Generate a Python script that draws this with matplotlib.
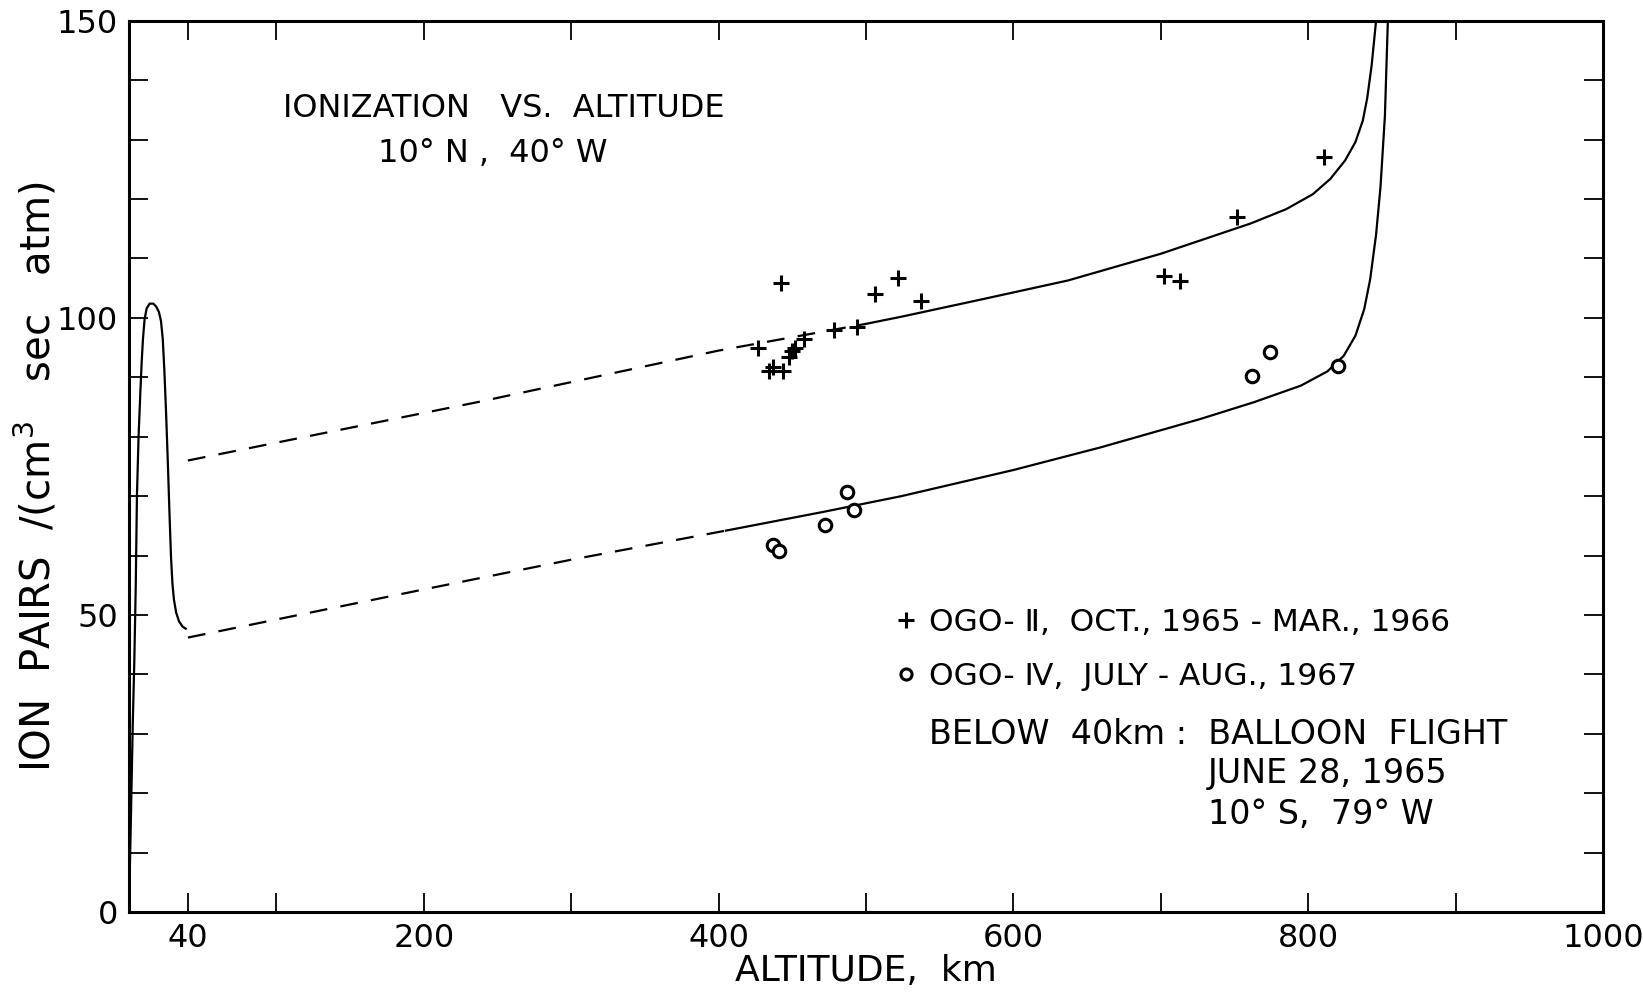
#!/usr/bin/env python3

import matplotlib

matplotlib.use("Agg")
import matplotlib.pyplot as plt
from matplotlib.lines import Line2D

plt.rcParams["font.family"] = ["DejaVu Sans"]

# balloon flight, below 40 km (km, ion pairs)
balloon_alt = [0.3, 1.0, 1.8, 2.6, 3.6, 4.6, 5.4, 6.5, 7.7, 8.6, 9.5, 10.6, 12.0, 14.0,
               16.5, 18.5, 20.3, 21.7, 22.9, 24.0, 25.1, 26.3, 27.4, 28.5, 29.5,
               30.5, 32.0, 34.0, 36.5, 38.5]
balloon_ion = [4, 12, 22, 32, 42, 55, 70, 80, 87.4, 92.5, 96.5, 99.8, 101.6, 102.4,
               102.4, 101.9, 101.0, 99.5, 96.5, 91.2, 84.5, 76.1, 67.7, 59.8, 55.2,
               52.6, 50.4, 48.9, 48.0, 47.7]

# upper curve (OGO-II fit)
upper_dash_alt = [40, 238, 400, 500]
upper_dash_ion = [76.0, 85.9, 94.5, 99.0]
upper_alt = [500, 524, 580, 637, 700, 761, 785, 803, 815, 825, 832, 837, 840, 843, 846]
upper_ion = [99.0, 100.2, 103.2, 106.3, 110.8, 115.9, 118.3, 120.8, 123.4, 126.5,
             129.6, 133.2, 137.0, 142.5, 150.0]

# lower curve (OGO-IV fit)
lower_dash_alt = [40, 200, 300, 405]
lower_dash_ion = [46.2, 54.3, 59.3, 64.2]
lower_alt = [405, 470, 524, 600, 659, 727, 763, 795, 813, 824, 832, 838, 842, 846,
             849, 852, 854]
lower_ion = [64.2, 67.3, 70.0, 74.4, 78.2, 83.0, 85.8, 88.6, 91.0, 93.6, 97.0, 101.5,
             106.5, 114.0, 122.0, 134.0, 150.0]

# OGO-II, Oct 1965 - Mar 1966
ogo2_alt = [427, 434, 437, 442, 444, 448, 450, 452, 458, 478, 494, 506, 522, 537,
            702, 713, 752, 811]
ogo2_ion = [94.9, 91.0, 91.8, 105.9, 91.0, 93.4, 94.5, 95.0, 96.5, 97.9, 98.5, 104.0,
            106.8, 102.9, 107.0, 106.2, 116.9, 127.0]

# OGO-IV, Jul - Aug 1967
ogo4_alt = [437, 441, 472, 487, 492, 762, 774, 820]
ogo4_ion = [61.8, 60.7, 65.2, 70.7, 67.7, 90.2, 94.2, 91.9]

x_ticks = [40, 100, 200, 300, 400, 500, 600, 700, 800, 900, 1000]
x_labels = ["40", "", "200", "", "400", "", "600", "", "800", "", "1000"]
y_ticks = list(range(0, 151, 10))
y_labels = [str(v) if v % 50 == 0 else "" for v in y_ticks]


fig = plt.figure(figsize=(16.43, 9.92), dpi=100)
ax = fig.add_axes([0.0785, 0.0806, 0.8972, 0.8984])

lw = 1.6
ax.plot(balloon_alt, balloon_ion, color="black", lw=lw)
ax.plot(upper_dash_alt, upper_dash_ion, color="black", lw=lw, dashes=(8, 6))
ax.plot(upper_alt, upper_ion, color="black", lw=lw)
ax.plot(lower_dash_alt, lower_dash_ion, color="black", lw=lw, dashes=(8, 6))
ax.plot(lower_alt, lower_ion, color="black", lw=lw)

ax.plot(ogo2_alt, ogo2_ion, linestyle="none", marker="+", ms=11, mew=2.2, color="black")
ax.plot(ogo4_alt, ogo4_ion, linestyle="none", marker="o", ms=9, mew=2.2,
        mfc="white", mec="black")

ax.set_xlim(0, 1000)
ax.set_ylim(0, 150)
ax.set_xticks(x_ticks)
ax.set_xticklabels(x_labels)
ax.set_yticks(y_ticks)
ax.set_yticklabels(y_labels)
ax.tick_params(direction="in", length=14, width=1.3, labelsize=23,
               top=True, right=True, pad=8)
for sp in ax.spines.values():
    sp.set_linewidth(2.2)

ax.set_xlabel("ALTITUDE,  km", fontsize=26, labelpad=0)
ax.set_ylabel("ION  PAIRS  /(cm$^3$   sec   atm)", fontsize=29)
ax.yaxis.label.set_va("center")
ax.yaxis.set_label_coords(-0.0625, 0.488)

ax.text(0.254, 0.902, "IONIZATION   VS.  ALTITUDE", transform=ax.transAxes,
        fontsize=23, ha="center", va="center")
ax.text(0.247, 0.851, "10° N ,  40° W", transform=ax.transAxes,
        fontsize=23, ha="center", va="center")

handles = [
    Line2D([], [], linestyle="none", marker="+", ms=11, mew=2.2, color="black"),
    Line2D([], [], linestyle="none", marker="o", ms=8, mew=2.2, mfc="white", mec="black"),
]
labels = ["OGO- Ⅱ,  OCT., 1965 - MAR., 1966", "OGO- Ⅳ,  JULY - AUG., 1967"]
ax.legend(handles, labels, loc="upper left", bbox_to_anchor=(0.51, 0.355),
          frameon=False, fontsize=22.5, handlelength=0.8, handletextpad=0.35,
          labelspacing=0.78, borderaxespad=0)

ax.text(0.543, 0.199, "BELOW  40km :  BALLOON  FLIGHT", transform=ax.transAxes,
        fontsize=24, ha="left", va="center")
ax.text(0.732, 0.155, "JUNE 28, 1965", transform=ax.transAxes,
        fontsize=24, ha="left", va="center")
ax.text(0.732, 0.110, "10° S,  79° W", transform=ax.transAxes,
        fontsize=24, ha="left", va="center")

fig.savefig("out.png", dpi=100)
plt.close(fig)
